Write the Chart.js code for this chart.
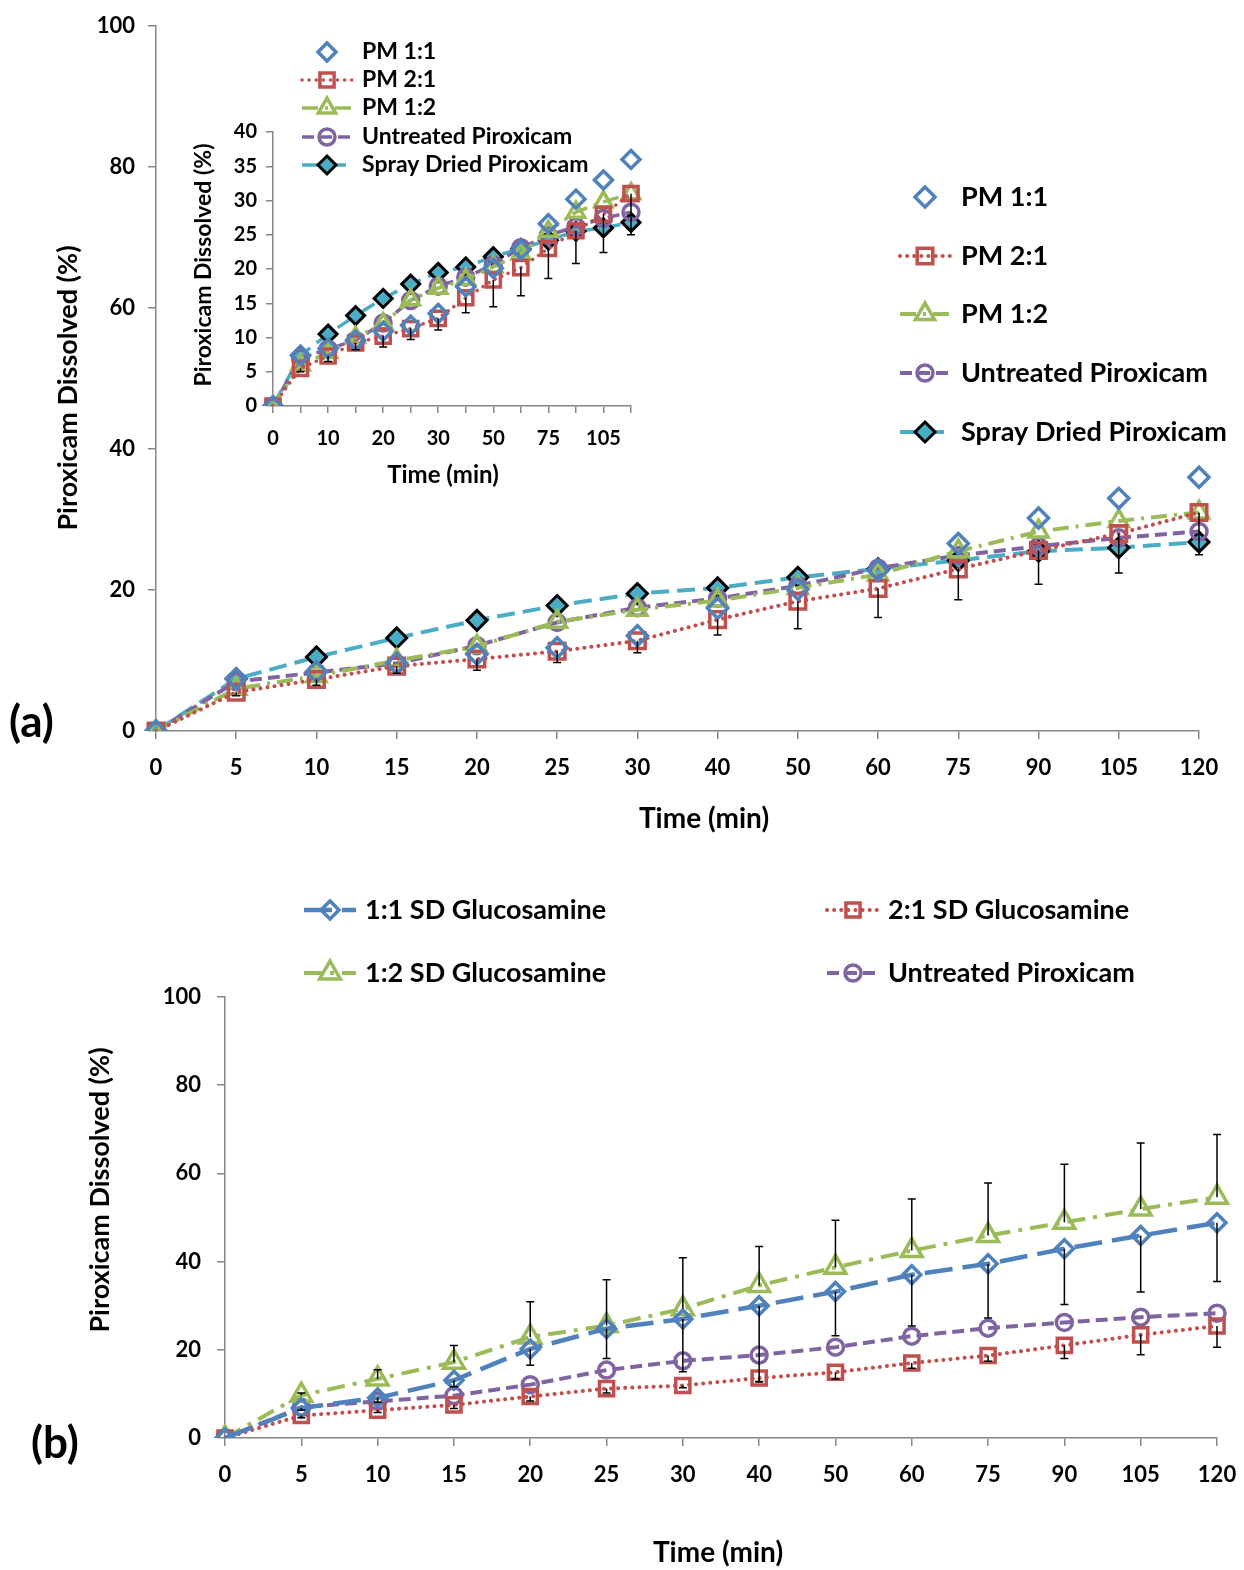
<!DOCTYPE html>
<html>
<head>
<meta charset="utf-8">
<script src="https://cdn.jsdelivr.net/npm/chart.js@4.4.0/dist/chart.umd.min.js"></script>
<style>
body { margin: 0; background: #fff; }
#page { position: relative; width: 1244px; height: 1570px; font-family: Lato, "Open Sans", sans-serif; }
canvas { position: absolute; }
.tag { position: absolute; font-weight: bold; font-size: 44px; line-height: 44px; color: #000; }
</style>
</head>
<body>
<div id="page">
  <canvas id="chartA" width="1244" height="840" style="left:0;top:0"></canvas>
  <canvas id="chartInset" width="500" height="460" style="left:150px;top:30px"></canvas>
  <canvas id="chartB" width="1244" height="730" style="left:0;top:840px"></canvas>
  <div class="tag" style="left:9px;top:698px">(a)</div>
  <div class="tag" style="left:31px;top:1419px">(b)</div>
</div>
<script>
// time points (min), shown as evenly spaced categories
var times = ['0', '5', '10', '15', '20', '25', '30', '40', '50', '60', '75', '90', '105', '120'];
var xTitle = 'Time (min)';
var yTitle = 'Piroxicam Dissolved (%)';

// panel (a): physical mixtures vs untreated / spray dried
var pm11 = [0, 7.4, 8.4, 9.6, 10.9, 11.8, 13.5, 17.4, 20.1, 22.8, 26.6, 30.2, 33, 36];
var pm21 = [0, 5.5, 7.3, 9.2, 10.2, 11.3, 12.8, 15.8, 18.4, 20.2, 23, 25.6, 28, 31];
var pm12 = [0, 6, 7.8, 10, 12, 15.5, 17.2, 18.5, 20.3, 22.2, 25.5, 28.3, 29.8, 31];
var untreated = [0, 7, 8.3, 9.6, 12.1, 15.4, 17.5, 18.8, 20.6, 23.1, 24.9, 26.2, 27.4, 28.3];
var sprayDried = [0, 7.4, 10.5, 13.2, 15.7, 17.8, 19.5, 20.3, 21.8, 23, 24.2, 25.5, 26, 26.8];
var pm21ErrDown = [0, 0.5, 0.8, 1, 1.6, 1.6, 1.7, 2.2, 3.9, 4.1, 4.4, 4.8, 5.6, 6];

// panel (b): spray dried with glucosamine
var sd11 = [0, 6.8, 9.1, 13.1, 20.2, 24.8, 27, 30, 33.2, 37, 39.5, 42.9, 45.9, 48.8];
var sd21 = [0, 5.1, 6.3, 7.5, 9.4, 11.2, 11.9, 13.6, 14.9, 17, 18.7, 21, 23.4, 25.4];
var sd12 = [0, 9.7, 13.4, 17.2, 22.9, 25.5, 29.3, 34.6, 38.7, 42.5, 45.9, 48.9, 51.9, 54.6];
var sd12ErrUp = [0, 0.5, 2.1, 3.8, 8, 10.4, 11.6, 8.8, 10.7, 11.7, 11.9, 13.2, 15, 14.2];
var sd11ErrDown = [0, 0.5, 1, 1.5, 3.7, 6.8, 12, 17.3, 10, 11.6, 12.3, 12.6, 12.8, 13.3];
var sd21ErrDown = [0, 0.5, 0.5, 0.8, 1, 1, 0.5, 0.8, 1.5, 1.2, 1.3, 3, 4.5, 4.8];

var FONT = 'Lato, "Open Sans", sans-serif';
var BLUE = '#4F81BD', RED = '#C0504D', GREEN = '#9BBB59', PURPLE = '#8064A2', TEAL = '#4BACC6';
var AXIS = '#868686';
var NONE = 'rgba(0,0,0,0)';

function markerPath(ctx, style, x, y, r) {
    ctx.beginPath();
    if (style === 'circle') {
        ctx.arc(x, y, r, 0, Math.PI * 2);
    } else if (style === 'rect') {
        var s = r * Math.SQRT1_2;
        ctx.rect(x - s, y - s, 2 * s, 2 * s);
    } else if (style === 'rectRot') {
        ctx.moveTo(x, y - r); ctx.lineTo(x + r, y); ctx.lineTo(x, y + r); ctx.lineTo(x - r, y);
    } else if (style === 'triangle') {
        for (var k = 0; k < 3; k++) {
            var a = k * 2 * Math.PI / 3;
            ctx[k ? 'lineTo' : 'moveTo'](x + Math.sin(a) * r, y - Math.cos(a) * r);
        }
    }
    ctx.closePath();
}

// legend drawn at fixed spots, one entry per dataset
var seriesLegend = {
    id: 'seriesLegend',
    afterDraw: function (chart, args, opts) {
        var ctx = chart.ctx;
        ctx.save();
        chart.data.datasets.forEach(function (ds, i) {
            var pos = opts.items[i];
            var x0 = pos[0], y = pos[1], x1 = x0 + opts.lineLen;
            if (ds.showLine !== false) {
                ctx.beginPath();
                ctx.setLineDash(ds.borderDash || []);
                ctx.lineCap = ds.borderCapStyle || 'butt';
                ctx.strokeStyle = ds.borderColor;
                ctx.lineWidth = ds.borderWidth;
                ctx.moveTo(x0, y);
                ctx.lineTo(x1, y);
                ctx.stroke();
            }
            ctx.setLineDash([]);
            ctx.lineCap = 'butt';
            markerPath(ctx, ds.pointStyle, (x0 + x1) / 2, y, ds.pointRadius);
            ctx.fillStyle = ds.pointBackgroundColor;
            ctx.fill();
            ctx.lineWidth = ds.pointBorderWidth;
            ctx.strokeStyle = ds.pointBorderColor;
            ctx.stroke();
            ctx.fillStyle = '#000';
            ctx.font = 'bold ' + opts.size + 'px ' + FONT;
            ctx.textBaseline = 'middle';
            ctx.fillText(ds.label, x1 + opts.gap, y);
        });
        ctx.restore();
    }
};

// axis titles placed where the original puts them
var axisTitles = {
    id: 'axisTitles',
    afterDraw: function (chart, args, opts) {
        var ctx = chart.ctx;
        ctx.save();
        ctx.fillStyle = '#000';
        ctx.textAlign = 'center';
        ctx.textBaseline = 'middle';
        opts.items.forEach(function (t) {
            ctx.font = 'bold ' + t.size + 'px ' + FONT;
            ctx.save();
            ctx.translate(t.x, t.y);
            ctx.rotate(t.rot || 0);
            ctx.fillText(t.text, 0, 0);
            ctx.restore();
        });
        ctx.restore();
    }
};

var errorBars = {
    id: 'errorBars',
    afterDatasetsDraw: function (chart, args, opts) {
        if (!opts.bars) return;
        var ctx = chart.ctx, xs = chart.scales.x, ys = chart.scales.y;
        ctx.save();
        ctx.strokeStyle = '#000';
        ctx.lineWidth = 1.5;
        opts.bars.forEach(function (b) {
            var vals = chart.data.datasets[b.ds].data;
            vals.forEach(function (v, i) {
                if (!b.err[i]) return;
                var px = xs.getPixelForValue(i);
                var p0 = ys.getPixelForValue(v);
                var p1 = ys.getPixelForValue(v + b.dir * b.err[i]);
                ctx.beginPath();
                ctx.moveTo(px, p0); ctx.lineTo(px, p1);
                ctx.moveTo(px - 4, p1); ctx.lineTo(px + 4, p1);
                ctx.stroke();
            });
        });
        ctx.restore();
    }
};

function line(label, data, color, style, r, dash, width, extra) {
    var ds = {
        label: label, data: data,
        borderColor: color, borderWidth: width, borderDash: dash,
        borderCapStyle: dash && dash[0] < 1 ? 'round' : 'butt',
        pointStyle: style, pointRadius: r, pointHoverRadius: r,
        pointBorderColor: color, pointBackgroundColor: NONE, pointBorderWidth: 3.5,
        tension: 0, fill: false
    };
    for (var k in extra) ds[k] = extra[k];
    return ds;
}

function axes(o) {
    var gridOpts = { drawOnChartArea: false, drawTicks: true, tickLength: o.tick, color: AXIS, lineWidth: 1.5 };
    return {
        x: {
            type: 'category', offset: false,
            grid: gridOpts,
            border: { color: AXIS, width: 1.5 },
            ticks: {
                autoSkip: false, maxRotation: 0, padding: o.xPad, color: '#000',
                font: { family: FONT, size: o.tickSize, weight: 'bold' },
                callback: o.skip ? function (v, i) { return i % 2 ? '' : times[i]; } : function (v, i) { return times[i]; }
            },
            afterFit: function (s) { s.height = o.xH; s.paddingLeft = 0; s.paddingRight = 0; }
        },
        y: {
            min: 0, max: o.max,
            grid: gridOpts,
            border: { color: AXIS, width: 1.5 },
            ticks: { stepSize: o.step, padding: o.yPad, color: '#000',
                     font: { family: FONT, size: o.tickSize, weight: 'bold' } },
            afterFit: function (s) { s.width = o.yW; s.paddingTop = 0; s.paddingBottom = 0; }
        }
    };
}

function panelA(w, rDia, rSq, rTri, rCir) {
    return [
        line('PM 1:1', pm11, BLUE, 'rectRot', rDia, [], w, { showLine: false }),
        line('PM 2:1', pm21, RED, 'rect', rSq, [0.1, 7], w),
        line('PM 1:2', pm12, GREEN, 'triangle', rTri, [16, 7, 3, 7], w),
        line('Untreated Piroxicam', untreated, PURPLE, 'circle', rCir, [12, 6], w),
        line('Spray Dried Piroxicam', sprayDried, TEAL, 'rectRot', rDia, [18, 8], w,
             { pointBackgroundColor: TEAL, pointBorderColor: '#000', pointBorderWidth: 3 })
    ];
}

window.onload = function () {
    new Chart(document.getElementById('chartA').getContext('2d'), {
        type: 'line',
        data: { labels: times, datasets: panelA(4, 10, 11, 11, 8) },
        options: {
            responsive: false, animation: false,
            layout: { padding: { left: 54, top: 26, right: 45, bottom: 8 } },
            scales: axes({ tick: 8, xPad: 16, yPad: 13, tickSize: 22, xH: 101, yW: 102, max: 100, step: 20 }),
            plugins: {
                legend: { display: false }, tooltip: { enabled: false },
                errorBars: { bars: [{ ds: 1, err: pm21ErrDown, dir: -1 }] },
                seriesLegend: { items: [[900, 197], [900, 256], [900, 314], [900, 373], [900, 432]],
                                lineLen: 50, gap: 11, size: 27 },
                axisTitles: { items: [{ text: xTitle, x: 704, y: 819, size: 28 },
                                      { text: yTitle, x: 68, y: 388, size: 27, rot: -Math.PI / 2 }] }
            }
        },
        plugins: [errorBars, seriesLegend, axisTitles]
    });

    new Chart(document.getElementById('chartInset').getContext('2d'), {
        type: 'line',
        data: { labels: times, datasets: panelA(3.5, 9, 10, 10, 8) },
        options: {
            responsive: false, animation: false,
            layout: { padding: { left: 42, top: 102, right: 19, bottom: 2 } },
            scales: axes({ tick: 7, xPad: 14, yPad: 9, tickSize: 20, xH: 82, yW: 81, max: 40, step: 5, skip: true }),
            plugins: {
                legend: { display: false }, tooltip: { enabled: false },
                errorBars: { bars: [{ ds: 1, err: pm21ErrDown, dir: -1 }] },
                seriesLegend: { items: [[152, 22], [152, 50], [152, 78], [152, 107], [152, 135]],
                                lineLen: 50, gap: 10, size: 23 },
                axisTitles: { items: [{ text: xTitle, x: 293, y: 445, size: 24 },
                                      { text: yTitle, x: 54, y: 235, size: 23, rot: -Math.PI / 2 }] }
            }
        },
        plugins: [errorBars, seriesLegend, axisTitles]
    });

    new Chart(document.getElementById('chartB').getContext('2d'), {
        type: 'line',
        data: {
            labels: times,
            datasets: [
                line('1:1 SD Glucosamine', sd11, BLUE, 'rectRot', 9, [28, 10], 4.5),
                line('2:1 SD Glucosamine', sd21, RED, 'rect', 10, [0.1, 7], 4),
                line('1:2 SD Glucosamine', sd12, GREEN, 'triangle', 12, [18, 8, 4, 8], 4),
                line('Untreated Piroxicam', untreated, PURPLE, 'circle', 8, [12, 6], 4)
            ]
        },
        options: {
            responsive: false, animation: false,
            layout: { padding: { left: 86, top: 157, right: 27, bottom: 4 } },
            scales: axes({ tick: 8, xPad: 16, yPad: 16, tickSize: 22, xH: 128, yW: 139, max: 100, step: 20 }),
            plugins: {
                legend: { display: false }, tooltip: { enabled: false },
                errorBars: { bars: [{ ds: 2, err: sd12ErrUp, dir: 1 },
                                    { ds: 0, err: sd11ErrDown, dir: -1 },
                                    { ds: 1, err: sd21ErrDown, dir: -1 }] },
                seriesLegend: { items: [[304, 70], [827, 70], [304, 133], [827, 133]],
                                lineLen: 52, gap: 9, size: 27 },
                axisTitles: { items: [{ text: xTitle, x: 718, y: 713, size: 28 },
                                      { text: yTitle, x: 100, y: 350, size: 27, rot: -Math.PI / 2 }] }
            }
        },
        plugins: [errorBars, seriesLegend, axisTitles]
    });
};
</script>
</body>
</html>
